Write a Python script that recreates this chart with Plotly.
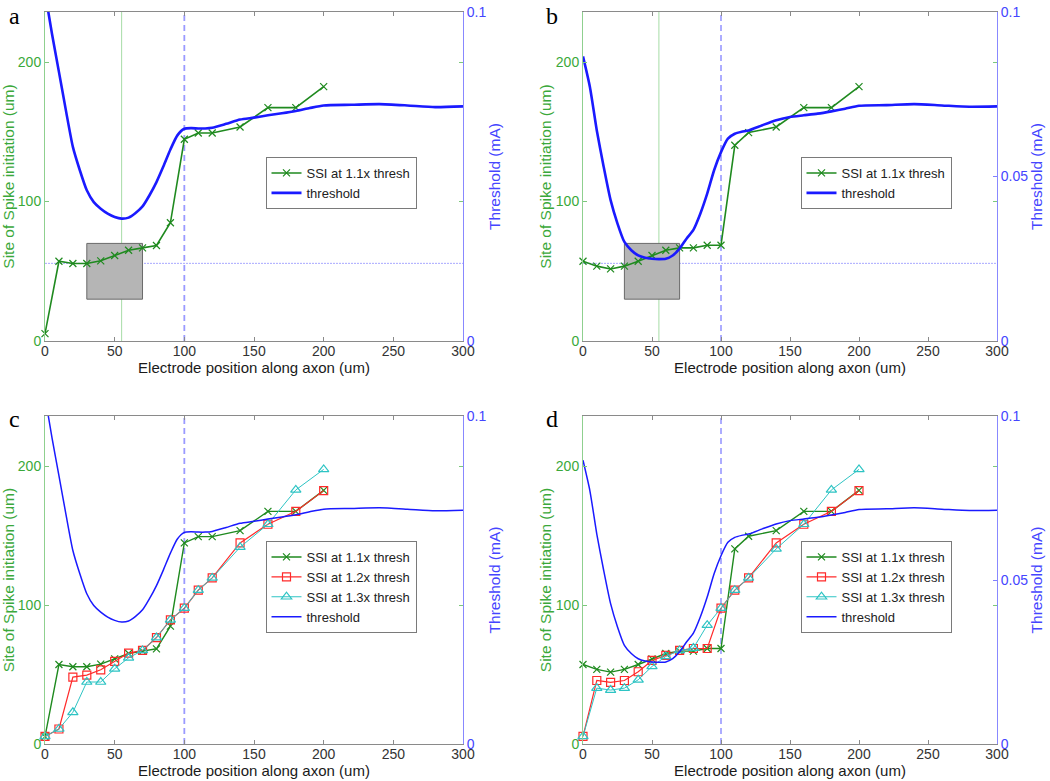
import plotly.graph_objects as go

# ---------------- data ----------------
SSI_X = [0, 10, 20, 30, 40, 50, 60, 70, 80, 90, 100, 110, 120, 140, 160, 180, 200]
SSI_A_11 = [5.3, 57.2, 55.6, 55.6, 57.5, 61.3, 65.1, 66.8, 68.5, 84.8, 144.7, 149.2, 149.2, 153.5, 167.4, 167.4, 182.5]
SSI_B_11 = [57.2, 53.7, 51.7, 53.7, 57.2, 61.3, 65.1, 66.8, 66.8, 68.7, 68.7, 140.4, 149.5, 153.5, 167.4, 167.4, 182.5]
SSI_C_12 = [5.5, 10.8, 48.1, 49.6, 53.4, 59.4, 65.4, 67.3, 76.6, 89.3, 97.7, 110.7, 119.5, 144.7, 158.1, 167.4, 182.3]
SSI_C_13 = [5.5, 10.8, 22.8, 44.6, 44.6, 54.1, 62.0, 67.3, 76.6, 89.3, 97.7, 110.7, 119.5, 141.6, 158.1, 182.8, 197.6]
SSI_D_12 = [5.5, 45.7, 44.3, 45.7, 52.0, 60.1, 63.7, 67.3, 68.7, 68.7, 97.7, 110.7, 119.5, 144.7, 158.1, 167.4, 182.3]
SSI_D_13 = [5.5, 40.2, 38.8, 40.2, 46.2, 55.8, 63.0, 67.3, 69.0, 85.5, 97.7, 110.7, 119.5, 140.4, 158.1, 182.8, 197.6]

THR_X = [0, 5, 10, 15, 20, 25, 30, 35, 40, 45, 50, 55, 60, 65, 70, 75, 80, 85, 90, 95,
         100, 105, 110, 115, 120, 130, 140, 150, 160, 170, 180, 190, 200, 220, 240, 260, 280, 300]
THR_A = [0.106, 0.0934, 0.0818, 0.0701, 0.059, 0.0519, 0.0458, 0.0422, 0.0402, 0.0387, 0.0377, 0.0372,
         0.0375, 0.0389, 0.0409, 0.0443, 0.0483, 0.0531, 0.0582, 0.0625,
         0.0645, 0.0647, 0.0646, 0.0646, 0.0648, 0.066, 0.0673, 0.0679, 0.0686, 0.0692, 0.0699, 0.0708, 0.0716,
         0.0718, 0.072, 0.0716, 0.0711, 0.0713]
THR_B = [0.0865, 0.0772, 0.064, 0.0529, 0.0428, 0.0357, 0.0301, 0.0276, 0.026, 0.0253, 0.025, 0.0249,
         0.025, 0.026, 0.0281, 0.0311, 0.0338, 0.0387, 0.0448, 0.0519,
         0.0574, 0.0615, 0.063, 0.0636, 0.064, 0.0656, 0.0671, 0.0681, 0.0686, 0.0691, 0.0698, 0.0706, 0.0715,
         0.0717, 0.072, 0.0716, 0.0712, 0.0713]

X_TICKS = [0, 50, 100, 150, 200, 250, 300]
Y_TICKS = [0, 100, 200]
PANEL_LABELS = ["a", "b", "c", "d"]
BOX_X = [30, 70]
BOX_Y = [30, 70]
MIN_POS = 55
MIN_SITE = 55.7
AXON_END = 100

# ---------------- style ----------------
GREEN = "#1f8a1f"
RED = "#ff2a2a"
CYAN = "#2ec4c4"
BLUE = "#1a1aff"
GREEN_TXT = "#3aa83a"
BLUE_TXT = "#4545ff"
FONT = "Liberation Sans, Arial, sans-serif"

W, H = 1050, 781
# pixel boxes (left, right, top, bottom)
boxes = [(45, 463, 12, 341), (583, 997, 12, 341), (45, 463, 416, 744), (583, 997, 416, 744)]
# legend box centres (pixels)
leg_centres = [(341, 183), (876, 183), (341, 587), (876, 587)]

fig = go.Figure()

panels = [
    dict(ssi=[("SSI at 1.1x thresh", SSI_A_11, GREEN, "x-thin-open", 7, 1.6)], thr=THR_A,
         rticks=[0, 0.1], marks=True),
    dict(ssi=[("SSI at 1.1x thresh", SSI_B_11, GREEN, "x-thin-open", 7, 1.6)], thr=THR_B,
         rticks=[0, 0.05, 0.1], marks=True),
    dict(ssi=[("SSI at 1.1x thresh", SSI_A_11, GREEN, "x-thin-open", 7, 1.4),
              ("SSI at 1.2x thresh", SSI_C_12, RED, "square-open", 8, 1.2),
              ("SSI at 1.3x thresh", SSI_C_13, CYAN, "triangle-up-open", 9, 1.0)], thr=THR_A,
         rticks=[0, 0.1], marks=False),
    dict(ssi=[("SSI at 1.1x thresh", SSI_B_11, GREEN, "x-thin-open", 7, 1.4),
              ("SSI at 1.2x thresh", SSI_D_12, RED, "square-open", 8, 1.2),
              ("SSI at 1.3x thresh", SSI_D_13, CYAN, "triangle-up-open", 9, 1.0)], thr=THR_B,
         rticks=[0, 0.05, 0.1], marks=False),
]

layout = dict(width=W, height=H, autosize=False,
              margin=dict(l=0, r=0, t=0, b=0, pad=0, autoexpand=False),
              paper_bgcolor="white", plot_bgcolor="white", shapes=[], annotations=[],
              font=dict(family=FONT))

for i, p in enumerate(panels):
    L, R, T, B = boxes[i]
    xd = [L / W, R / W]
    yd = [1 - B / H, 1 - T / H]
    xn = "x" if i == 0 else f"x{i+1}"
    yl = 2 * i + 1
    yr = 2 * i + 2
    yln = "y" if yl == 1 else f"y{yl}"
    yrn = f"y{yr}"
    leg = "legend" if i == 0 else f"legend{i+1}"
    for name, vals, col, sym, ms, lw in p["ssi"]:
        fig.add_trace(go.Scatter(x=SSI_X, y=vals, name=name, mode="lines+markers",
                                 line=dict(color=col, width=lw),
                                 marker=dict(symbol=sym, size=ms, color=col, line=dict(color=col, width=1.2)),
                                 xaxis=xn, yaxis=yln, legend=leg, cliponaxis=False))
    fig.add_trace(go.Scatter(x=THR_X, y=p["thr"], name="threshold", mode="lines",
                             line=dict(color=BLUE, width=2.6 if i < 2 else 1.5, shape="spline", smoothing=0.6),
                             xaxis=xn, yaxis=yrn, legend=leg))
    xkey = "xaxis" if i == 0 else f"xaxis{i+1}"
    ylkey = "yaxis" if yl == 1 else f"yaxis{yl}"
    yrkey = f"yaxis{yr}"
    layout[xkey] = dict(domain=xd, anchor=yln, range=[0, 300], tickvals=X_TICKS, automargin=False,
                        ticks="inside", ticklen=4, tickcolor="#8a8a8a", linecolor="#8a8a8a", linewidth=1,
                        mirror="ticks", showgrid=False, zeroline=False, ticklabelstandoff=-3,
                        tickfont=dict(size=14, color="#333333"),
                        title=dict(text="Electrode position along axon (um)", font=dict(size=15, color="#1a1a1a"),
                                   standoff=0))
    layout[ylkey] = dict(domain=yd, anchor=xn, range=[0, 236], tickvals=Y_TICKS, automargin=False,
                         ticks="inside", ticklen=4, tickcolor="#7cc87c", linecolor="#8fd08f", linewidth=1,
                         mirror="ticks", showgrid=False, zeroline=False,
                         tickfont=dict(size=14, color=GREEN_TXT),
                         title=dict(text="Site of Spike initiation (um)", font=dict(size=15.5, color=GREEN_TXT),
                                    standoff=0))
    layout[yrkey] = dict(domain=yd, anchor=xn, overlaying=yln, side="right", range=[0, 0.1], automargin=False,
                         tickvals=p["rticks"], ticktext=[str(v) for v in p["rticks"]],
                         ticks="inside", ticklen=4, tickcolor="#8080ff", linecolor="#8888ff", linewidth=1,
                         showgrid=False, zeroline=False,
                         tickfont=dict(size=14, color=BLUE_TXT),
                         title=dict(text="Threshold (mA)", font=dict(size=15.5, color=BLUE_TXT), standoff=3))
    cx, cy = leg_centres[i]
    layout[leg] = dict(x=cx / W, y=1 - cy / H, xanchor="center", yanchor="middle",
                       bgcolor="white", bordercolor="#7a7a7a", borderwidth=1,
                       font=dict(size=13, color="#222222"), tracegroupgap=0, itemwidth=30)
    xref, yref = xn, yln
    if p["marks"]:
        layout["shapes"].append(dict(type="rect", xref=xref, yref=yref, x0=BOX_X[0], x1=BOX_X[1],
                                     y0=BOX_Y[0], y1=BOX_Y[1], fillcolor="#b5b5b5",
                                     line=dict(color="#6a6a6a", width=1), layer="below"))
        layout["shapes"].append(dict(type="line", xref=xref, yref=f"{yref} domain", x0=MIN_POS, x1=MIN_POS,
                                     y0=0, y1=1, line=dict(color="#a6dca6", width=1), layer="below"))
        layout["shapes"].append(dict(type="line", xref=f"{xref} domain", yref=yref, x0=0, x1=1,
                                     y0=MIN_SITE, y1=MIN_SITE, line=dict(color="#a8a8ff", width=1, dash="2px,1px"),
                                     layer="below"))
    layout["shapes"].append(dict(type="line", xref=xref, yref=f"{yref} domain", x0=AXON_END, x1=AXON_END,
                                 y0=0, y1=1,
                                 line=dict(color="#9a9aff" if i % 2 == 0 else "#5a5aff",
                                           width=1.8 if i % 2 == 0 else 1, dash="6px,4px"),
                                 layer="below"))
    lx = 14 if i % 2 == 0 else 552
    ly = 1 if i < 2 else 404
    layout["annotations"].append(dict(text=PANEL_LABELS[i], x=lx / W, y=1 - ly / H, xref="paper", yref="paper",
                                      showarrow=False, xanchor="center", yanchor="top",
                                      font=dict(family="Liberation Serif, Times New Roman, serif", size=24,
                                                color="black")))

fig.update_layout(**layout)
fig.write_html("out.html", config={"displayModeBar": False},
               post_script="document.body.style.margin='0';document.body.style.padding='0';"
                           "document.body.style.overflow='hidden';"
                           "document.documentElement.style.overflow='hidden';")
